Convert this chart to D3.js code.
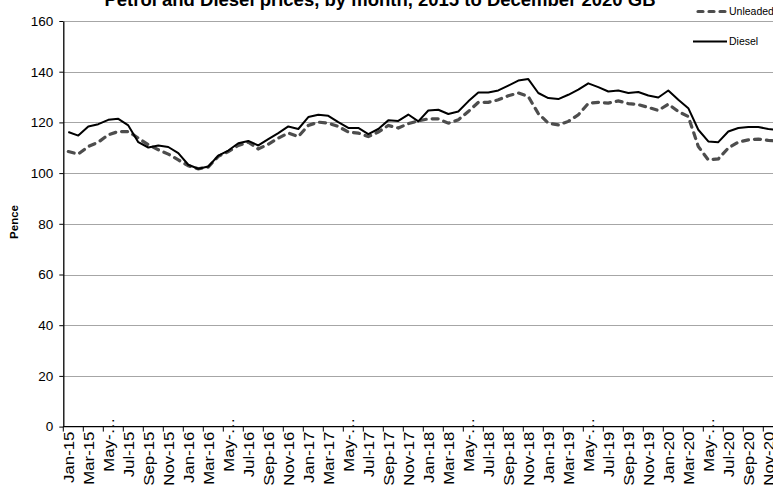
<!DOCTYPE html>
<html>
<head>
<meta charset="utf-8">
<script src="https://cdn.jsdelivr.net/npm/d3@7"></script>
<style>
  html, body { margin: 0; padding: 0; background: #fff; overflow: hidden; }
  svg { display: block; font-family: "Liberation Sans", Arial, sans-serif; }
</style>
</head>
<body>
<svg id="chart" width="773" height="488"></svg>
<script>
// Month labels, Jan-15 .. Dec-20
const monthNames = ["Jan","Feb","Mar","Apr","May","Jun","Jul","Aug","Sep","Oct","Nov","Dec"];
const years = ["15","16","17","18","19","20"];
const categories = [];
years.forEach(y => monthNames.forEach(m => categories.push(m + "-" + y)));

// Monthly average pump prices (pence per litre)
const unleaded = [
  108.5, 107.5, 110.5, 112.2, 115.1, 116.4, 116.4, 113.8, 111.2, 109.2, 107.5, 105.2,
  102.9, 101.7, 102.4, 106.6, 108.5, 110.9, 112.2, 109.5, 111.4, 113.8, 115.8, 114.4,
  118.8, 120.1, 119.7, 118.4, 116.2, 115.8, 114.4, 116.2, 118.8, 117.8, 119.5, 120.6,
  121.4, 121.4, 119.7, 121.0, 124.3, 127.9, 127.9, 128.9, 130.5, 131.6, 130.2, 123.5,
  119.7, 119.0, 120.4, 123.0, 127.5, 127.9, 127.6, 128.5, 127.4, 127.0, 125.9, 124.7,
  127.2, 124.3, 122.3, 110.5, 105.2, 105.6, 109.9, 112.2, 113.1, 113.4, 112.9, 112.6
];
const diesel = [
  116.2, 114.8, 118.4, 119.3, 121.0, 121.4, 118.8, 112.2, 110.1, 110.9, 110.3, 107.9,
  103.3, 101.7, 102.6, 106.9, 108.9, 111.8, 112.7, 110.9, 113.4, 115.8, 118.4, 117.4,
  122.1, 123.0, 122.6, 120.1, 117.8, 117.8, 115.4, 117.4, 120.8, 120.6, 123.1, 120.4,
  124.7, 125.0, 123.3, 124.3, 128.3, 131.8, 131.8, 132.6, 134.5, 136.5, 137.1, 131.6,
  129.6, 129.2, 130.9, 132.9, 135.4, 133.9, 132.2, 132.6, 131.6, 132.0, 130.6, 129.8,
  132.6, 128.9, 125.6, 117.1, 112.5, 112.2, 116.4, 117.8, 118.2, 118.2, 117.4, 117.0
];

const yTicks = [0, 20, 40, 60, 80, 100, 120, 140, 160];
const titleText = "Petrol and Diesel prices, by month, 2015 to December 2020 GB";
const seriesNames = ["Unleaded", "Diesel"];

const svg = d3.select("#chart");

const x = d3.scaleBand().domain(categories).range([63.3, 783.3]).padding(0);
const y = d3.scaleLinear().domain([0, 160]).range([426.6, 21]);
const cx = d => x(d) + x.bandwidth() / 2;

// horizontal gridlines
svg.append("g")
  .selectAll("line")
  .data(yTicks.filter(t => t > 0))
  .join("line")
  .attr("x1", 63.3).attr("x2", 783.3)
  .attr("y1", d => Math.round(y(d)) + 0.5).attr("y2", d => Math.round(y(d)) + 0.5)
  .attr("stroke", "#a6a6a6").attr("stroke-width", 1);

// y axis
const yAxis = svg.append("g")
  .attr("transform", "translate(63.3,0)")
  .call(d3.axisLeft(y).tickValues(yTicks).tickSize(4).tickPadding(6).tickSizeOuter(0));
yAxis.select(".domain").attr("stroke", "#000").attr("stroke-width", 1.3);
yAxis.selectAll(".tick line").attr("stroke", "#000");
yAxis.selectAll(".tick text").attr("font-size", 13.5).attr("fill", "#000")
  .style("font-family", "'Liberation Sans', Arial, sans-serif");

// x axis: ticks at every second category boundary
const xTickCats = categories.filter((c, i) => i % 2 === 0);
const xAxisY = y(0);
svg.append("line")
  .attr("x1", 63.3).attr("x2", 783.3)
  .attr("y1", xAxisY).attr("y2", xAxisY)
  .attr("stroke", "#000").attr("stroke-width", 1.3);
svg.append("g").selectAll("line")
  .data(xTickCats)
  .join("line")
  .attr("x1", d => x(d)).attr("x2", d => x(d))
  .attr("y1", xAxisY).attr("y2", xAxisY + 5)
  .attr("stroke", "#000").attr("stroke-width", 1);

// rotated month labels, drawn in a tall narrow face
svg.append("g").selectAll("text")
  .data(xTickCats)
  .join("text")
  .attr("transform", d => {
    const short = d.startsWith("May");
    return `translate(${cx(d) + 1},${short ? xAxisY - 9 : xAxisY + 5}) rotate(-90) scale(1.2,1)`;
  })
  .attr("text-anchor", "end")
  .attr("dy", "0.35em")
  .attr("font-size", 14)
  .attr("fill", "#000")
  .text(d => d.startsWith("May") ? "May-…" : d);

// series lines
const line = d3.line().x((d, i) => cx(categories[i])).y(d => y(d));

svg.append("path")
  .datum(unleaded)
  .attr("d", line)
  .attr("fill", "none")
  .attr("stroke", "#4d4d4d")
  .attr("stroke-width", 3.2)
  .attr("stroke-dasharray", "6,6")
  .attr("stroke-linecap", "round");

svg.append("path")
  .datum(diesel)
  .attr("d", line)
  .attr("fill", "none")
  .attr("stroke", "#000")
  .attr("stroke-width", 2)
  .attr("stroke-linejoin", "round");

// title (partly above the top edge)
svg.append("text")
  .attr("x", 380).attr("y", 6)
  .attr("text-anchor", "middle")
  .attr("font-size", 18.5)
  .attr("font-weight", "bold")
  .text(titleText);

// y axis title
svg.append("text")
  .attr("transform", "translate(18,222) rotate(-90)")
  .attr("text-anchor", "middle")
  .attr("font-size", 11.5)
  .attr("font-weight", "bold")
  .text("Pence");

// legend
const legend = svg.append("g");
legend.append("line")
  .attr("x1", 698).attr("x2", 727).attr("y1", 11.5).attr("y2", 11.5)
  .attr("stroke", "#4d4d4d").attr("stroke-width", 3.2)
  .attr("stroke-dasharray", "5,6").attr("stroke-linecap", "round");
legend.append("line")
  .attr("x1", 693).attr("x2", 727).attr("y1", 41.5).attr("y2", 41.5)
  .attr("stroke", "#000").attr("stroke-width", 2);
legend.selectAll("text.lg")
  .data(seriesNames)
  .join("text")
  .attr("class", "lg")
  .attr("x", 729)
  .attr("y", (d, i) => i === 0 ? 11.5 : 41.5)
  .attr("dy", "0.35em")
  .attr("font-size", 10.5)
  .text(d => d);
</script>
</body>
</html>
